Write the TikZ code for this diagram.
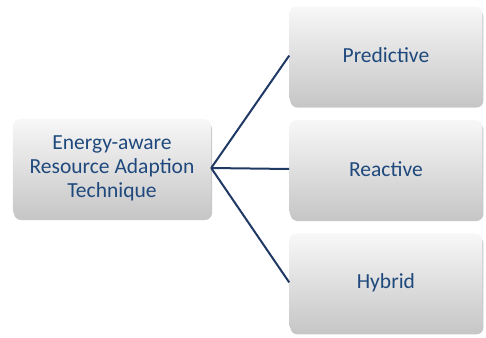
\documentclass[tikz,border=0pt]{standalone}
\usepackage{fontspec}
\setmainfont{Carlito}
\usetikzlibrary{positioning,shadows,calc}
\definecolor{txtblue}{HTML}{1F497D}
\definecolor{lineblue}{HTML}{1F3864}
\tikzset{
  box/.style={rectangle, rounded corners=7pt, minimum width=196pt, minimum height=98pt,
    top color=black!3, bottom color=black!22, draw=none, text=txtblue, align=center,
    font=\fontsize{21.5}{24}\selectfont,
    drop shadow={shadow xshift=1pt, shadow yshift=-3pt, fill=black, opacity=0.22}},
  connect/.style={draw=lineblue, line width=2pt}
}

\begin{document}
\begin{tikzpicture}
  \useasboundingbox (-112pt,-169pt) rectangle (374pt,168pt);
  \node[box, minimum width=198pt] (Tech) at (0,0) {Energy-aware\\Resource Adaption\\Technique};
  \node[box, minimum width=193pt] (Reactive) [right=78pt of Tech, yshift=-1pt] {Reactive};
  \node[box, minimum width=193pt] (Predictive) [above=15pt of Reactive] {Predictive};
  \node[box, minimum width=193pt] (Hybrid) [below=15pt of Reactive] {Hybrid};

  \path (Tech.east) edge [connect] (Predictive.west);
  \path (Tech.east) edge [connect] (Reactive.west);
  \path (Tech.east) edge [connect] (Hybrid.west);
\end{tikzpicture}
\end{document}
